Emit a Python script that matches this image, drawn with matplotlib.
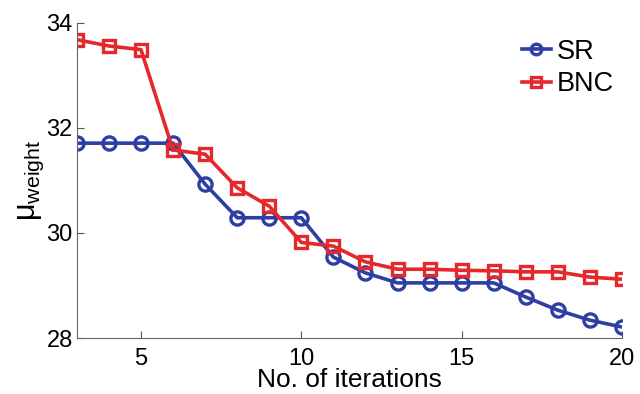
import matplotlib
matplotlib.use("Agg")
import matplotlib.pyplot as plt

plt.rcParams['font.family'] = ['Liberation Sans', 'DejaVu Sans']
plt.rcParams['mathtext.fontset'] = 'custom'
plt.rcParams['mathtext.rm'] = 'Liberation Sans'
plt.rcParams['mathtext.it'] = 'Liberation Sans:italic'

iterations = list(range(3, 21))
sr = [31.71, 31.71, 31.71, 31.71, 30.93, 30.29, 30.29, 30.29, 29.54, 29.24,
      29.05, 29.05, 29.05, 29.05, 28.78, 28.53, 28.34, 28.21]
bnc = [33.68, 33.56, 33.49, 31.58, 31.50, 30.86, 30.51, 29.82, 29.75, 29.45,
       29.31, 29.31, 29.29, 29.28, 29.26, 29.26, 29.16, 29.12]
xticks = [5, 10, 15, 20]
yticks = [28, 30, 32, 34]

fig = plt.figure(figsize=(6.4, 3.94), dpi=100)
ax = fig.add_axes([0.12, 0.142, 0.852, 0.8])

blue = '#2e3ea3'
red = '#e5282b'
ax.plot(iterations, sr, '-o', color=blue, lw=2.6, ms=9.5, mew=2.4,
        mfc='none', label='SR')
ax.plot(iterations, bnc, '-s', color=red, lw=2.6, ms=9, mew=2.4,
        mfc='none', label='BNC')

ax.set_xlim(3, 20)
ax.set_ylim(28, 34)
ax.set_xticks(xticks)
ax.set_yticks(yticks)
ax.tick_params(direction='in', length=5, width=0.8, color='#555555',
               labelsize=17)
ax.tick_params(axis='x', pad=7)
ax.tick_params(axis='y', pad=3)
for s in ['top', 'right']:
    ax.spines[s].set_visible(False)
for s in ['left', 'bottom']:
    ax.spines[s].set_color('#666666')
    ax.spines[s].set_linewidth(0.8)

ax.set_xlabel('No. of iterations', fontsize=19, labelpad=-1)
ax.set_ylabel(r'$\mathrm{\mu}_{\mathrm{weight}}$', fontsize=22, labelpad=0)

ax.legend(loc='upper right', frameon=False, fontsize=19.5, handlelength=1.1,
          handletextpad=0.2, borderaxespad=0.0, labelspacing=0.25,
          borderpad=0.0, markerscale=0.8,
          bbox_to_anchor=(0.985, 0.95))

fig.savefig('out.png', dpi=100)
